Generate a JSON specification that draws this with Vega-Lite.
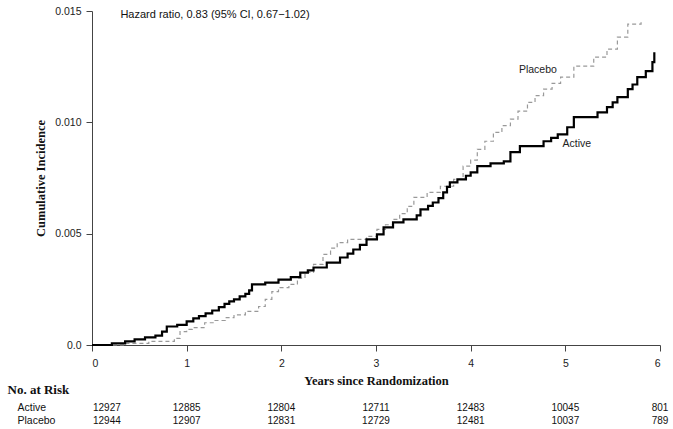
{
  "$schema": "https://vega.github.io/schema/vega-lite/v6.json",
  "padding": {"left": 7, "top": 6, "right": 5, "bottom": 5},
  "spacing": -4,
  "background": "white",
  "config": {"view": {"stroke": null}},
  "datasets": {
    "curves": [
      {"g":"Active","t":0,"v":0},
      {"g":"Active","t":0.21,"v":0.00007},
      {"g":"Active","t":0.35,"v":0.00016},
      {"g":"Active","t":0.45,"v":0.00025},
      {"g":"Active","t":0.56,"v":0.00034},
      {"g":"Active","t":0.67,"v":0.00042},
      {"g":"Active","t":0.74,"v":0.0006},
      {"g":"Active","t":0.79,"v":0.00083},
      {"g":"Active","t":0.9,"v":0.0009},
      {"g":"Active","t":1.0,"v":0.00106},
      {"g":"Active","t":1.07,"v":0.0012},
      {"g":"Active","t":1.13,"v":0.0013},
      {"g":"Active","t":1.2,"v":0.00142},
      {"g":"Active","t":1.27,"v":0.00155},
      {"g":"Active","t":1.34,"v":0.0017},
      {"g":"Active","t":1.4,"v":0.00185},
      {"g":"Active","t":1.45,"v":0.00196},
      {"g":"Active","t":1.5,"v":0.00205},
      {"g":"Active","t":1.56,"v":0.00218},
      {"g":"Active","t":1.62,"v":0.0023},
      {"g":"Active","t":1.66,"v":0.00245},
      {"g":"Active","t":1.69,"v":0.00272},
      {"g":"Active","t":1.83,"v":0.0028},
      {"g":"Active","t":1.97,"v":0.00294},
      {"g":"Active","t":2.1,"v":0.00305},
      {"g":"Active","t":2.2,"v":0.00325},
      {"g":"Active","t":2.28,"v":0.00335},
      {"g":"Active","t":2.34,"v":0.00348},
      {"g":"Active","t":2.48,"v":0.0037},
      {"g":"Active","t":2.62,"v":0.00393},
      {"g":"Active","t":2.7,"v":0.0041},
      {"g":"Active","t":2.76,"v":0.00429},
      {"g":"Active","t":2.83,"v":0.0045},
      {"g":"Active","t":2.9,"v":0.00474},
      {"g":"Active","t":3.01,"v":0.00497},
      {"g":"Active","t":3.08,"v":0.00528},
      {"g":"Active","t":3.18,"v":0.00551},
      {"g":"Active","t":3.29,"v":0.00564},
      {"g":"Active","t":3.43,"v":0.00582},
      {"g":"Active","t":3.47,"v":0.00609},
      {"g":"Active","t":3.55,"v":0.00625},
      {"g":"Active","t":3.6,"v":0.0064},
      {"g":"Active","t":3.66,"v":0.0066},
      {"g":"Active","t":3.71,"v":0.00685},
      {"g":"Active","t":3.75,"v":0.0071},
      {"g":"Active","t":3.78,"v":0.0073},
      {"g":"Active","t":3.86,"v":0.00744},
      {"g":"Active","t":3.95,"v":0.0076},
      {"g":"Active","t":4.0,"v":0.00775},
      {"g":"Active","t":4.07,"v":0.00803},
      {"g":"Active","t":4.21,"v":0.00816},
      {"g":"Active","t":4.35,"v":0.00825},
      {"g":"Active","t":4.42,"v":0.00866},
      {"g":"Active","t":4.52,"v":0.00893},
      {"g":"Active","t":4.77,"v":0.00915},
      {"g":"Active","t":4.85,"v":0.0093},
      {"g":"Active","t":4.92,"v":0.00946},
      {"g":"Active","t":5.02,"v":0.00978},
      {"g":"Active","t":5.09,"v":0.01023},
      {"g":"Active","t":5.34,"v":0.01045},
      {"g":"Active","t":5.44,"v":0.01068},
      {"g":"Active","t":5.5,"v":0.0109},
      {"g":"Active","t":5.55,"v":0.01113},
      {"g":"Active","t":5.66,"v":0.01149},
      {"g":"Active","t":5.71,"v":0.0117},
      {"g":"Active","t":5.76,"v":0.01203},
      {"g":"Active","t":5.85,"v":0.0123},
      {"g":"Active","t":5.92,"v":0.0127},
      {"g":"Active","t":5.94,"v":0.01315},
      {"g":"Placebo","t":0,"v":0},
      {"g":"Placebo","t":0.35,"v":0.00007},
      {"g":"Placebo","t":0.6,"v":0.00016},
      {"g":"Placebo","t":0.87,"v":0.0003},
      {"g":"Placebo","t":0.93,"v":0.0006},
      {"g":"Placebo","t":1.0,"v":0.0007},
      {"g":"Placebo","t":1.06,"v":0.00078},
      {"g":"Placebo","t":1.19,"v":0.001},
      {"g":"Placebo","t":1.3,"v":0.0011},
      {"g":"Placebo","t":1.41,"v":0.00123},
      {"g":"Placebo","t":1.5,"v":0.00135},
      {"g":"Placebo","t":1.62,"v":0.00151},
      {"g":"Placebo","t":1.76,"v":0.00173},
      {"g":"Placebo","t":1.83,"v":0.00205},
      {"g":"Placebo","t":1.9,"v":0.0024},
      {"g":"Placebo","t":1.97,"v":0.00258},
      {"g":"Placebo","t":2.08,"v":0.00272},
      {"g":"Placebo","t":2.17,"v":0.003},
      {"g":"Placebo","t":2.25,"v":0.00326},
      {"g":"Placebo","t":2.34,"v":0.00362},
      {"g":"Placebo","t":2.44,"v":0.00407},
      {"g":"Placebo","t":2.52,"v":0.00435},
      {"g":"Placebo","t":2.59,"v":0.0046},
      {"g":"Placebo","t":2.7,"v":0.00474},
      {"g":"Placebo","t":2.9,"v":0.00488},
      {"g":"Placebo","t":3.01,"v":0.00519},
      {"g":"Placebo","t":3.1,"v":0.0054},
      {"g":"Placebo","t":3.18,"v":0.00564},
      {"g":"Placebo","t":3.25,"v":0.0059},
      {"g":"Placebo","t":3.33,"v":0.00623},
      {"g":"Placebo","t":3.4,"v":0.00663},
      {"g":"Placebo","t":3.54,"v":0.00685},
      {"g":"Placebo","t":3.68,"v":0.00713},
      {"g":"Placebo","t":3.82,"v":0.00744},
      {"g":"Placebo","t":3.92,"v":0.00803},
      {"g":"Placebo","t":4.0,"v":0.0083},
      {"g":"Placebo","t":4.07,"v":0.00879},
      {"g":"Placebo","t":4.15,"v":0.00915},
      {"g":"Placebo","t":4.24,"v":0.00955},
      {"g":"Placebo","t":4.33,"v":0.00985},
      {"g":"Placebo","t":4.42,"v":0.01014},
      {"g":"Placebo","t":4.5,"v":0.0105},
      {"g":"Placebo","t":4.6,"v":0.0109},
      {"g":"Placebo","t":4.68,"v":0.0112},
      {"g":"Placebo","t":4.77,"v":0.01149},
      {"g":"Placebo","t":4.86,"v":0.01175},
      {"g":"Placebo","t":4.95,"v":0.01203},
      {"g":"Placebo","t":5.09,"v":0.01252},
      {"g":"Placebo","t":5.3,"v":0.01293},
      {"g":"Placebo","t":5.44,"v":0.01329},
      {"g":"Placebo","t":5.55,"v":0.01383},
      {"g":"Placebo","t":5.66,"v":0.01441},
      {"g":"Placebo","t":5.8,"v":0.0145}
    ],
    "labels": [
      {"label":"Placebo","t":4.51,"v":0.01234},
      {"label":"Active","t":4.97,"v":0.00901}
    ],
    "note": [
      {"label":"Hazard ratio, 0.83 (95% CI, 0.67\u22121.02)","t":0.3,"v":0.01482}
    ],
    "risk": [
      {"g":"Active","t":0,"n":"12927"},
      {"g":"Active","t":1,"n":"12885"},
      {"g":"Active","t":2,"n":"12804"},
      {"g":"Active","t":3,"n":"12711"},
      {"g":"Active","t":4,"n":"12483"},
      {"g":"Active","t":5,"n":"10045"},
      {"g":"Active","t":6,"n":"801"},
      {"g":"Placebo","t":0,"n":"12944"},
      {"g":"Placebo","t":1,"n":"12907"},
      {"g":"Placebo","t":2,"n":"12831"},
      {"g":"Placebo","t":3,"n":"12729"},
      {"g":"Placebo","t":4,"n":"12481"},
      {"g":"Placebo","t":5,"n":"10037"},
      {"g":"Placebo","t":6,"n":"789"}
    ]
  },
  "vconcat": [
    {
      "width": 568,
      "height": 334,
      "encoding": {
        "x": {
          "field": "t", "type": "quantitative",
          "scale": {"domain": [0, 6], "nice": false, "zero": false},
          "axis": {
            "title": "Years since Randomization",
            "values": [0,1,2,3,4,5,6],
            "format": "d",
            "grid": false,
            "domainColor": "#444", "tickColor": "#444",
            "tickSize": 6, "labelPadding": 7,
            "labelFont": "Liberation Sans", "labelFontSize": 10.5, "labelColor": "#222",
            "titleFont": "Liberation Serif", "titleFontSize": 12.5, "titleFontWeight": "bold", "titleColor": "#111",
            "titlePadding": 6
          }
        },
        "y": {
          "field": "v", "type": "quantitative",
          "scale": {"domain": [0, 0.015], "nice": false},
          "axis": {
            "title": "Cumulative Incidence",
            "values": [0, 0.005, 0.01, 0.015],
            "labelExpr": "datum.value == 0 ? '0.0' : format(datum.value, '.3f')",
            "grid": false,
            "domainColor": "#444", "tickColor": "#444",
            "tickSize": 6, "labelPadding": 5,
            "labelFont": "Liberation Sans", "labelFontSize": 10.5, "labelColor": "#222",
            "titleFont": "Liberation Serif", "titleFontSize": 12.5, "titleFontWeight": "bold", "titleColor": "#111",
            "titlePadding": 7
          }
        }
      },
      "layer": [
        {
          "data": {"name": "curves"},
          "transform": [{"filter": "datum.g === 'Placebo'"}],
          "mark": {"type": "line", "interpolate": "step-after", "color": "#999999", "strokeWidth": 1.2, "strokeDash": [4, 3]}
        },
        {
          "data": {"name": "curves"},
          "transform": [{"filter": "datum.g === 'Active'"}],
          "mark": {"type": "line", "interpolate": "step-after", "color": "#000000", "strokeWidth": 2.2}
        },
        {
          "data": {"name": "labels"},
          "mark": {"type": "text", "align": "left", "baseline": "middle", "font": "Liberation Sans", "fontSize": 10.5, "color": "#222"},
          "encoding": {"text": {"field": "label"}}
        },
        {
          "data": {"name": "note"},
          "mark": {"type": "text", "align": "left", "baseline": "middle", "font": "Liberation Sans", "fontSize": 11, "color": "#111"},
          "encoding": {"text": {"field": "label"}}
        }
      ]
    },
    {
      "width": 568,
      "height": 26,
      "data": {"name": "risk"},
      "encoding": {
        "x": {"field": "t", "type": "quantitative", "scale": {"domain": [0, 6], "nice": false, "zero": false}, "axis": null},
        "y": {
          "field": "g", "type": "nominal",
          "scale": {"domain": ["Active", "Placebo"], "padding": 0.5},
          "axis": {
            "title": "No. at Risk",
            "titleAngle": 0, "titleAlign": "left", "titleBaseline": "middle",
            "titleX": -85, "titleY": -11.5,
            "titleFont": "Liberation Serif", "titleFontSize": 13, "titleFontWeight": "bold", "titleColor": "#111",
            "domain": false, "ticks": false, "tickSize": 0, "grid": false,
            "labelAlign": "left", "labelBaseline": "middle", "labelPadding": 75,
            "labelFont": "Liberation Sans", "labelFontSize": 10.5, "labelColor": "#111"
          }
        },
        "text": {"field": "n"}
      },
      "layer": [
        {
          "transform": [{"filter": "datum.t === 0"}],
          "mark": {"type": "text", "align": "left", "dx": 1, "baseline": "middle", "font": "Liberation Sans", "fontSize": 10, "color": "#111"}
        },
        {
          "transform": [{"filter": "datum.t > 0"}],
          "mark": {"type": "text", "align": "center", "baseline": "middle", "font": "Liberation Sans", "fontSize": 10, "color": "#111"}
        }
      ]
    }
  ]
}
